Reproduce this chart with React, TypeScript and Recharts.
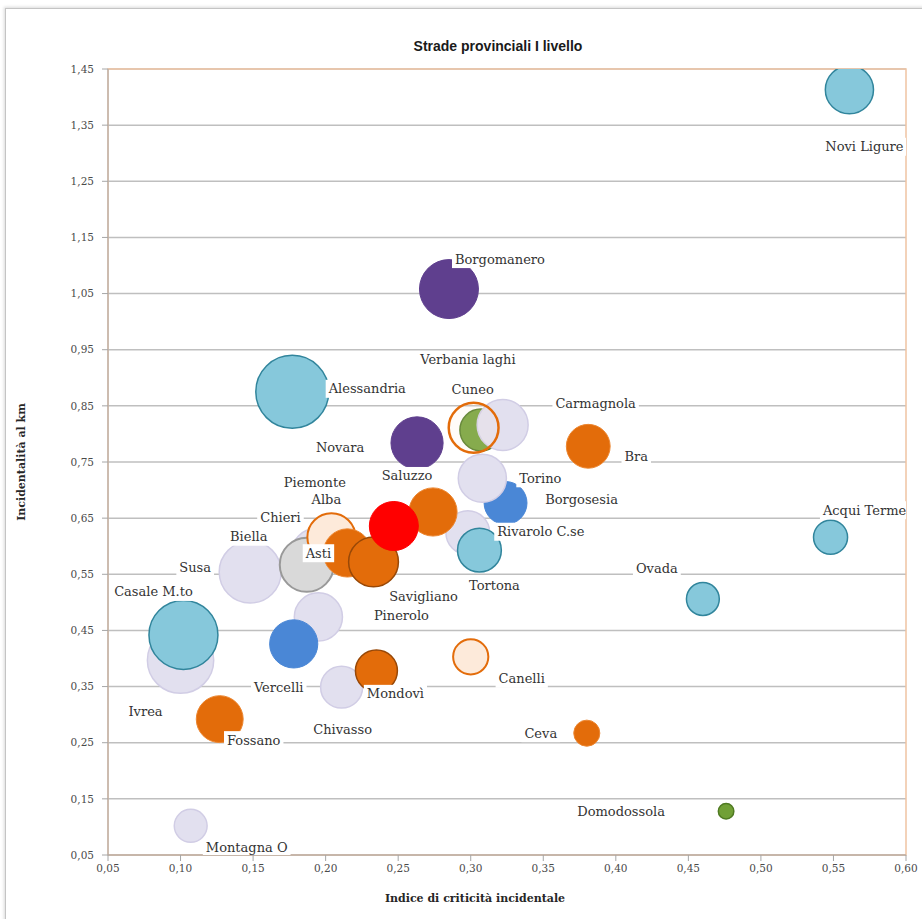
import { CartesianGrid, Cell, ReferenceArea, Scatter, ScatterChart, XAxis, YAxis, ZAxis } from 'recharts';

// ordine = ordine di disegno (dal fondo verso il primo piano)
const NAMES = [
  'Ivrea', 'Casale M.to', 'Susa', 'Chieri', 'Biella', 'Asti', 'Alba', 'Savigliano', 'Rivarolo C.se', 'Saluzzo',
  'Piemonte', 'Pinerolo', 'Vercelli', 'Chivasso', 'Mondovì', 'Fossano', 'Montagna O', 'Borgosesia', 'Torino',
  'Tortona', 'Verbania laghi', 'Carmagnola', 'Cuneo', 'Novara', 'Bra', 'Borgomanero', 'Alessandria',
  'Novi Ligure', 'Acqui Terme', 'Ovada', 'Canelli', 'Ceva', 'Domodossola',
];
const CRITICITA = [
  0.100, 0.102, 0.148, 0.193, 0.187, 0.204, 0.215, 0.233, 0.298, 0.274,
  0.247, 0.195, 0.178, 0.211, 0.235, 0.127, 0.107, 0.324, 0.308,
  0.306, 0.307, 0.322, 0.302, 0.263, 0.381, 0.285, 0.177,
  0.561, 0.548, 0.460, 0.300, 0.380, 0.476,
];
const INCIDENTALITA = [
  0.397, 0.442, 0.554, 0.588, 0.567, 0.616, 0.588, 0.572, 0.624, 0.661,
  0.636, 0.474, 0.426, 0.349, 0.378, 0.292, 0.102, 0.677, 0.721,
  0.593, 0.807, 0.816, 0.811, 0.784, 0.778, 1.058, 0.875,
  1.413, 0.616, 0.506, 0.403, 0.267, 0.128,
];
const DIMENSIONE = [
  110, 119, 96, 58, 73, 58, 58, 62, 48, 58,
  60, 58, 58, 44, 44, 55, 27, 46, 58,
  48, 44, 65, 62, 68, 48, 87, 133,
  58, 29, 27, 31, 17, 6,
];
const GRUPPO = [
  'lilla', 'celeste', 'lilla', 'lilla', 'grigio', 'contorno', 'arancio', 'arancioScuro', 'lilla', 'arancio',
  'rosso', 'lilla', 'blu', 'lilla', 'arancioScuro', 'arancio', 'lilla', 'blu', 'lilla',
  'celeste', 'verde', 'lilla', 'contornoVuoto', 'viola', 'arancio', 'viola', 'celeste',
  'celeste', 'celeste', 'celeste', 'contorno', 'arancio', 'verde',
];

const X_TICKS = [0.05, 0.1, 0.15, 0.2, 0.25, 0.3, 0.35, 0.4, 0.45, 0.5, 0.55, 0.6];
const Y_TICKS = [0.05, 0.15, 0.25, 0.35, 0.45, 0.55, 0.65, 0.75, 0.85, 0.95, 1.05, 1.15, 1.25, 1.35, 1.45];

const STYLES: Record<string, { fill: string; stroke: string; sw: number; op?: number }> = {
  celeste: { fill: '#86C8DB', stroke: '#31859C', sw: 1.5 },
  viola: { fill: '#5F3F8E', stroke: '#5F3F8E', sw: 1 },
  verde: { fill: '#71A036', stroke: '#4F7A22', sw: 1.5 },
  arancio: { fill: '#E36C0A', stroke: '#EC8630', sw: 1 },
  arancioScuro: { fill: '#E36C0A', stroke: '#984807', sw: 1.5 },
  contorno: { fill: '#FDEADA', stroke: '#E36C0A', sw: 2 },
  contornoVuoto: { fill: '#FDEADA', stroke: '#E36C0A', sw: 2.5, op: 0.15 },
  lilla: { fill: '#E2E0EF', stroke: '#D1CDE5', sw: 1.5 },
  blu: { fill: '#4A87D6', stroke: '#4A87D6', sw: 1 },
  grigio: { fill: '#D9D9D9', stroke: '#999999', sw: 2 },
  rosso: { fill: '#FF0000', stroke: '#FF0000', sw: 1 },
};

// spostamento dell'etichetta rispetto al centro della bolla (px)
const LABEL_OFFSET: Record<string, [number, number]> = {
  'Novi Ligure': [15, 57], Borgomanero: [51, -30], 'Verbania laghi': [-13, -70], Alessandria: [75, -3],
  Cuneo: [-1, -38], Carmagnola: [93, -21], Novara: [-77, 5], Bra: [48, 10], Piemonte: [-79, -44],
  Saluzzo: [-26, -36], Torino: [58, 0], Alba: [-21, -53], Borgosesia: [76, -3], 'Acqui Terme': [34, -27],
  Chieri: [-35, -35], Biella: [-58, -28], 'Rivarolo C.se': [73, -1], Asti: [-13, 16], Tortona: [15, 35],
  Susa: [-55, -5], 'Casale M.to': [-30, -43], Ovada: [-46, -30], Savigliano: [50, 35], Pinerolo: [83, -1],
  Vercelli: [-15, 44], Ivrea: [-35, 51], 'Mondovì': [19, 23], Canelli: [51, 22], Chivasso: [1, 42],
  Fossano: [34, 21], Ceva: [-46, 0], Domodossola: [-105, 0], 'Montagna O': [56, 22],
};

const data = NAMES.map((name, i) => ({
  name,
  x: CRITICITA[i],
  y: INCIDENTALITA[i],
  z: DIMENSIONE[i],
  gruppo: GRUPPO[i],
}));

const LABEL_FONT = '13px "DejaVu Serif"';
const ctx = typeof document !== 'undefined' ? document.createElement('canvas').getContext('2d') : null;
function textWidth(s: string) {
  if (!ctx) return s.length * 7.6;
  ctx.font = LABEL_FONT;
  return ctx.measureText(s).width;
}

const fmt = (v: number) => v.toFixed(2).replace('.', ',');

function BubbleLabel(props: any) {
  const { cx, cy, payload } = props;
  if (cx == null || cy == null || !payload) return <g />;
  const [dx, dy] = LABEL_OFFSET[payload.name] || [0, 0];
  const w = textWidth(payload.name);
  const lx = cx + dx;
  const ly = cy + dy;
  return (
    <g>
      <rect x={lx - w / 2 - 3} y={ly - 9} width={w + 6} height={18} fill="#ffffff" />
      <text x={lx} y={ly} textAnchor="middle" dominantBaseline="central" fontFamily="DejaVu Serif" fontSize={13} fill="#333333">
        {payload.name}
      </text>
    </g>
  );
}

const tickStyle = { fontFamily: 'DejaVu Serif', fontSize: 10.5, fill: '#4a4a4a' };

export default function App() {
  return (
    <div style={{ position: 'absolute', left: 0, top: 0, width: 922, height: 919, overflow: 'hidden', background: '#fff' }}>
      <div
        style={{
          position: 'absolute', left: 5, top: 8, width: 940, height: 940,
          border: '1px solid #C4C4C4', boxShadow: '-1px -1px 3px rgba(0,0,0,0.15)',
        }}
      />
      <div style={{ position: 'absolute', left: 0, top: 0 }}>
        <ScatterChart width={922} height={919} margin={{ top: 69, right: 16, bottom: 34, left: 48 }}>
          <CartesianGrid horizontal vertical={false} stroke="#BFBFBF" strokeWidth={1.5} />
          <ReferenceArea x1={0.05} x2={0.6} y1={0.05} y2={1.45} fill="none" stroke="#F0C4A2" strokeWidth={1.5} />
          <XAxis
            type="number"
            dataKey="x"
            domain={[0.05, 0.6]}
            ticks={X_TICKS}
            tickFormatter={fmt}
            allowDataOverflow
            height={30}
            tick={tickStyle}
            tickSize={6}
            tickMargin={4}
            stroke="#A6A6A6"
          />
          <YAxis
            type="number"
            dataKey="y"
            domain={[0.05, 1.45]}
            ticks={Y_TICKS}
            tickFormatter={fmt}
            allowDataOverflow
            width={60}
            tick={tickStyle}
            tickSize={6}
            tickMargin={8}
            stroke="#A6A6A6"
          />
          <ZAxis type="number" dataKey="z" domain={[0, 133]} range={[0, Math.PI * 1330]} />
          <Scatter data={data} isAnimationActive={false}>
            {data.map((d) => {
              const s = STYLES[d.gruppo];
              return <Cell key={d.name} fill={s.fill} fillOpacity={s.op ?? 1} stroke={s.stroke} strokeWidth={s.sw} />;
            })}
          </Scatter>
          <Scatter data={data} isAnimationActive={false} shape={BubbleLabel} />
        </ScatterChart>
      </div>
      <div
        style={{
          position: 'absolute', left: 0, width: 996, top: 38, textAlign: 'center',
          fontFamily: '"Liberation Sans", Arial, sans-serif', fontWeight: 'bold', fontSize: 14, color: '#1a1a1a',
        }}
      >
        Strade provinciali I livello
      </div>
      <div
        style={{
          position: 'absolute', left: 0, width: 950, top: 892, textAlign: 'center',
          fontFamily: '"DejaVu Serif", serif', fontWeight: 'bold', fontSize: 11, color: '#262626',
        }}
      >
        Indice di criticità incidentale
      </div>
      <div
        style={{
          position: 'absolute', left: 22, top: 462, width: 0, height: 0,
        }}
      >
        <div
          style={{
            position: 'absolute', left: -100, top: -8, width: 200, textAlign: 'center', transform: 'rotate(-90deg)',
            fontFamily: '"DejaVu Serif", serif', fontWeight: 'bold', fontSize: 11, color: '#262626', lineHeight: '16px',
          }}
        >
          Incidentalità al km
        </div>
      </div>
    </div>
  );
}
